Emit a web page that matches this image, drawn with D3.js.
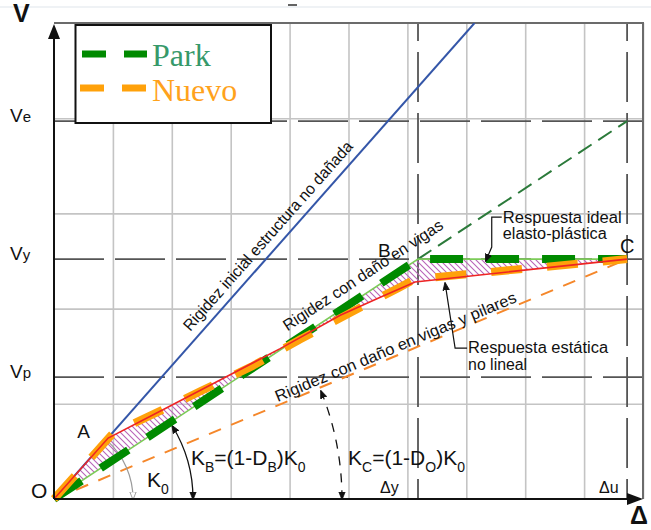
<!DOCTYPE html>
<html>
<head>
<meta charset="utf-8">
<script src="https://cdn.jsdelivr.net/npm/d3@7"></script>
<style>
  body { margin: 0; background: #fff; }
  svg text { font-family: "Liberation Sans", Arial, sans-serif; fill: #111; }
</style>
</head>
<body>
<svg id="chart" width="651" height="530"></svg>
<script>
// ---- Capacity diagram V–Δ : stiffness degradation (Park vs. Nuevo) ----

// grid positions
const gridDelta = [1, 2, 3, 4, 5, 6, 7, 8, 9, 10];
const gridV = [1, 2, 3, 4];

// characteristic force levels
const levelNames = ["V", "V", "V"];
const levelSubs = ["e", "y", "p"];
const levelValues = [3.97, 2.52, 1.28];

// characteristic displacements
const dispNames = ["Δ", "Δ"];
const dispSubs = ["y", "u"];
const dispValues = [6.18, 9.73];

// stiffness lines (Δ, V end points)
const initialDelta = [0, 7.14];        // K0, undamaged structure
const initialV = [0, 5.0];
const beamDelta = [0, 6.18];           // KB, damage in beams
const beamV = [0, 2.52];
const beamExtDelta = [6.18, 9.73];     // extension of KB up to Ve
const beamExtV = [2.52, 3.97];
const columnDelta = [0, 9.73];         // KC, damage in beams and columns
const columnV = [0, 2.52];

// idealised elasto-plastic response (Park)
const parkDelta = [0, 6.18, 9.73];
const parkV = [0, 2.52, 2.52];

// nonlinear static response
const staticDelta = [0, 0.92, 1.89, 2.82, 3.84, 4.86, 5.54, 6.13, 9.73];
const staticV = [0, 0.64, 0.95, 1.25, 1.58, 1.93, 2.12, 2.28, 2.52];

// proposed model (Nuevo)
const nuevoDelta = [0, 1.0, 1.65, 2.48, 3.35, 4.19, 5.04, 5.86, 6.13, 9.73];
const nuevoV = [0, 0.69, 0.88, 1.13, 1.39, 1.68, 1.96, 2.22, 2.31, 2.52];

// legend entries
const legendNames = ["Park", "Nuevo"];
const legendLineColors = ["#008a00", "#ffa10a"];
const legendTextColors = ["#36996a", "#ffa21c"];

// --------------------------------------------------------------------
const svg = d3.select("#chart");
const x = d3.scaleLinear().domain([0, 10]).range([54, 643]);
const y = d3.scaleLinear().domain([0, 5]).range([499, 23]);
const pts = (ds, vs) => ds.map((d, i) => [d, vs[i]]);
const line = d3.line().x(d => x(d[0])).y(d => y(d[1]));

const defs = svg.append("defs");
defs.append("clipPath").attr("id", "plot")
  .append("rect").attr("x", x(0)).attr("y", y(5))
  .attr("width", x(10) - x(0)).attr("height", y(0) - y(5));

const hatch = defs.append("pattern").attr("id", "hatch")
  .attr("patternUnits", "userSpaceOnUse").attr("width", 6).attr("height", 6);
hatch.append("path").attr("d", "M-1,-1L7,7M-1,5L1,7M5,-1L7,1")
  .attr("stroke", "#b864b8").attr("stroke-width", 1.1).attr("fill", "none");

function marker(id, fill, stroke) {
  defs.append("marker").attr("id", id)
    .attr("viewBox", "0 0 10 10").attr("refX", 9).attr("refY", 5)
    .attr("markerWidth", 8).attr("markerHeight", 8)
    .attr("markerUnits", "userSpaceOnUse")
    .attr("orient", "auto-start-reverse")
    .append("path").attr("d", "M0,1L10,5L0,9Z")
    .attr("fill", fill).attr("stroke", stroke).attr("stroke-width", 1);
}
marker("arr", "#111", "#111");
marker("arrOpen", "#fff", "#888");

// faint rule at the top of the sheet
svg.append("line").attr("x1", 0).attr("x2", 651).attr("y1", 7).attr("y2", 7)
  .attr("stroke", "#dfe5ec").attr("stroke-width", 1.2);
svg.append("line").attr("x1", 288).attr("x2", 297).attr("y1", 5).attr("y2", 5)
  .attr("stroke", "#222").attr("stroke-width", 1.4);

// ---- grid ----
const gx = svg.append("g").attr("transform", `translate(0,${y(0)})`)
  .call(d3.axisBottom(x).tickValues(gridDelta).tickSize(-(y(0) - y(5))).tickFormat(""));
gx.select(".domain").remove();
gx.selectAll(".tick line").attr("stroke", "#c4c4c4").attr("stroke-width", 1.6);

const gy = svg.append("g").attr("transform", `translate(${x(0)},0)`)
  .call(d3.axisLeft(y).tickValues(gridV).tickSize(-(x(10) - x(0))).tickFormat(""));
gy.select(".domain").remove();
gy.selectAll(".tick line").attr("stroke", "#c4c4c4").attr("stroke-width", 1.6);

// ---- characteristic levels (dashed) ----
svg.append("g").selectAll("line").data(levelValues).join("line")
  .attr("x1", x(0)).attr("x2", x(10))
  .attr("y1", d => y(d)).attr("y2", d => y(d))
  .attr("stroke", "#555").attr("stroke-width", 1.8)
  .attr("stroke-dasharray", "50,11");
svg.append("g").selectAll("line").data(dispValues).join("line")
  .attr("x1", d => x(d)).attr("x2", d => x(d))
  .attr("y1", y(0)).attr("y2", y(5))
  .attr("stroke", "#555").attr("stroke-width", 1.8)
  .attr("stroke-dasharray", "50,11").attr("stroke-dashoffset", 30);

// frame (top and right)
svg.append("path")
  .attr("d", `M${x(0)},${y(5)}H${x(10)}V${y(0)}`)
  .attr("fill", "none").attr("stroke", "#6b6b6b").attr("stroke-width", 2);

// ---- hatched area between nonlinear response and Park idealisation ----
const hatchPoly = pts(staticDelta, staticV).concat(pts(parkDelta, parkV).slice(1, -1).reverse());
svg.append("path").attr("d", line(hatchPoly) + "Z")
  .attr("fill", "url(#hatch)").attr("stroke", "none");

// ---- stiffness lines ----
const plot = svg.append("g").attr("clip-path", "url(#plot)");
plot.append("path").attr("d", line(pts(initialDelta, initialV)))
  .attr("fill", "none").attr("stroke", "#3456a8").attr("stroke-width", 2);
plot.append("path").attr("d", line(pts(columnDelta, columnV)))
  .attr("fill", "none").attr("stroke", "#f5872a").attr("stroke-width", 2)
  .attr("stroke-dasharray", "13,11");
plot.append("path").attr("d", line(pts(beamExtDelta, beamExtV)))
  .attr("fill", "none").attr("stroke", "#2b7a3a").attr("stroke-width", 2)
  .attr("stroke-dasharray", "16,8");
plot.append("path").attr("d", line(pts(parkDelta, parkV)))
  .attr("fill", "none").attr("stroke", "#7ccb58").attr("stroke-width", 1.6);

// ---- angle arcs ----
const O = [x(0), y(0)];
function angleOf(ds, vs) {
  return Math.atan2(y(vs[0]) - y(vs[1]), x(ds[1]) - x(ds[0]));
}
function arcPath(r, a) {
  const p = d3.path();
  p.arc(O[0], O[1], r, -a, 0, false);
  return p.toString();
}
svg.append("path").attr("d", arcPath(79, angleOf(initialDelta, initialV) - 0.02))
  .attr("fill", "none").attr("stroke", "#9a9a9a").attr("stroke-width", 1.2)
  .attr("marker-end", "url(#arrOpen)");
svg.append("path").attr("d", arcPath(139, angleOf(beamDelta, beamV) - 0.03))
  .attr("fill", "none").attr("stroke", "#111").attr("stroke-width", 1.3)
  .attr("marker-start", "url(#arr)").attr("marker-end", "url(#arr)");
svg.append("path").attr("d", arcPath(288, angleOf(columnDelta, columnV) - 0.012))
  .attr("fill", "none").attr("stroke", "#111").attr("stroke-width", 1.3)
  .attr("stroke-dasharray", "9,8")
  .attr("marker-start", "url(#arr)").attr("marker-end", "url(#arr)");

// ---- Park and Nuevo curves ----
svg.append("path").attr("d", line(pts(parkDelta, parkV)))
  .attr("fill", "none").attr("stroke", legendLineColors[0]).attr("stroke-width", 8)
  .attr("stroke-dasharray", "33,23");
svg.append("path").attr("d", line(pts(nuevoDelta, nuevoV)))
  .attr("fill", "none").attr("stroke", legendLineColors[1]).attr("stroke-width", 8)
  .attr("stroke-dasharray", "31,25");
// nonlinear static response
svg.append("path").attr("d", line(pts(staticDelta, staticV)))
  .attr("fill", "none").attr("stroke", "#ee2424").attr("stroke-width", 1.6);

// ---- axes with arrows ----
svg.append("line").attr("x1", x(0)).attr("x2", x(0)).attr("y1", y(0)).attr("y2", y(5) + 12)
  .attr("stroke", "#111").attr("stroke-width", 2);
svg.append("path")
  .attr("d", `M${x(0)},${y(5) + 1}L${x(0) - 6},${y(5) + 16}L${x(0) + 6},${y(5) + 16}Z`)
  .attr("fill", "#111");
svg.append("line").attr("x1", x(0)).attr("x2", x(10) - 12).attr("y1", y(0)).attr("y2", y(0))
  .attr("stroke", "#111").attr("stroke-width", 2);
svg.append("path")
  .attr("d", `M${x(10)},${y(0)}L${x(10) - 16},${y(0) - 6}L${x(10) - 16},${y(0) + 6}Z`)
  .attr("fill", "#111");

// ---- labels along the stiffness lines ----
function labelAlong(ds, vs, footDelta, offset, text, len) {
  const a = Math.atan2(y(vs[1]) - y(vs[0]), x(ds[1]) - x(ds[0]));
  const fx = x(footDelta);
  const fy = y(vs[0] + (footDelta - ds[0]) * (vs[1] - vs[0]) / (ds[1] - ds[0]));
  const px = fx + offset * Math.sin(a);
  const py = fy - offset * Math.cos(a);
  svg.append("text")
    .attr("transform", `translate(${px},${py}) rotate(${a * 180 / Math.PI})`)
    .attr("font-size", 16).attr("textLength", len).attr("lengthAdjust", "spacingAndGlyphs")
    .text(text);
}
labelAlong(initialDelta, initialV, 2.42, 8.5, "Rigidez inicial estructura no dañada", 247);
labelAlong(beamDelta, beamV, 4.07, 11.5, "Rigidez con daño en vigas", 188);
labelAlong(columnDelta, columnV, 3.82, 3, "Rigidez con daño en vigas y pilares", 260);

// ---- annotations with leaders ----
const tipIdeal = [x(7.33), y(parkV[2]) + 2];
svg.append("path")
  .attr("d", `M${tipIdeal[0] + 16},${tipIdeal[1] - 44}H${tipIdeal[0] + 6}V${tipIdeal[1] - 14}L${tipIdeal[0]},${tipIdeal[1]}`)
  .attr("fill", "none").attr("stroke", "#111").attr("stroke-width", 1.2)
  .attr("marker-end", "url(#arr)");
svg.append("text").attr("x", tipIdeal[0] + 17).attr("y", tipIdeal[1] - 38)
  .attr("font-size", 16).attr("textLength", 119).attr("lengthAdjust", "spacingAndGlyphs")
  .text("Respuesta ideal");
svg.append("text").attr("x", tipIdeal[0] + 17).attr("y", tipIdeal[1] - 22)
  .attr("font-size", 16).attr("textLength", 104).attr("lengthAdjust", "spacingAndGlyphs")
  .text("elasto-plástica");

const tipStatic = [x(6.64), y(2.30) + 3];
svg.append("path")
  .attr("d", `M${tipStatic[0] + 22},${tipStatic[1] + 65}H${tipStatic[0] + 10}L${tipStatic[0]},${tipStatic[1]}`)
  .attr("fill", "none").attr("stroke", "#111").attr("stroke-width", 1.2)
  .attr("marker-end", "url(#arr)");
svg.append("text").attr("x", tipStatic[0] + 23).attr("y", tipStatic[1] + 70)
  .attr("font-size", 16).attr("textLength", 140).attr("lengthAdjust", "spacingAndGlyphs")
  .text("Respuesta estática");
svg.append("text").attr("x", tipStatic[0] + 23).attr("y", tipStatic[1] + 87)
  .attr("font-size", 16).attr("textLength", 59).attr("lengthAdjust", "spacingAndGlyphs")
  .text("no lineal");

// ---- axis and point labels ----
svg.append("text").attr("x", 13).attr("y", 22)
  .attr("font-size", 25).attr("font-weight", "bold").text("V");
svg.append("text").attr("x", 630).attr("y", 524)
  .attr("font-size", 25).attr("font-weight", "bold").text("Δ");

const lv = svg.append("g").selectAll("text").data(levelValues).join("text")
  .attr("x", 10).attr("y", d => y(d) + 1).attr("font-size", 19);
lv.append("tspan").text((d, i) => levelNames[i]);
lv.append("tspan").attr("font-size", 15).text((d, i) => levelSubs[i]);

const ld = svg.append("g").selectAll("text").data(dispValues).join("text")
  .attr("x", d => x(d) - 38 + (d > 9 ? 10 : 0)).attr("y", y(0) - 6).attr("font-size", 16);
ld.append("tspan").text((d, i) => dispNames[i]);
ld.append("tspan").text((d, i) => dispSubs[i]);

svg.append("text").attr("x", 31).attr("y", y(0) - 1).attr("font-size", 21).text("O");
svg.append("text").attr("x", x(0.92) - 31).attr("y", y(0.64)).attr("font-size", 19).text("A");
svg.append("text").attr("x", x(parkDelta[1]) - 40).attr("y", y(parkV[1]) - 2).attr("font-size", 19).text("B");
svg.append("text").attr("x", x(parkDelta[2]) - 7).attr("y", y(parkV[2]) - 6).attr("font-size", 20).text("C");

// stiffness formulas: alternating normal text and subscripts
function kLabel(px, py, parts) {
  const t = svg.append("text").attr("x", px).attr("y", py).attr("font-size", 21);
  let shifted = false;
  parts.forEach(([s, sub]) => {
    const ts = t.append("tspan").text(s);
    if (sub) {
      ts.attr("font-size", 14).attr("dy", 7);
      shifted = true;
    } else if (shifted) {
      ts.attr("dy", -7);
      shifted = false;
    }
  });
}
kLabel(147, 487, [["K"], ["0", true]]);
kLabel(191, 465, [["K"], ["B", true], ["=(1-D"], ["B", true], [")K"], ["0", true]]);
kLabel(348, 465, [["K"], ["C", true], ["=(1-D"], ["O", true], [")K"], ["0", true]]);

// ---- legend ----
const lg = svg.append("g");
lg.append("rect").attr("x", 75.5).attr("y", 25).attr("width", 195.5).attr("height", 98)
  .attr("fill", "#fff").attr("stroke", "#111").attr("stroke-width", 2);
legendNames.forEach((name, i) => {
  const yy = 54 + i * 34;
  lg.append("line").attr("x1", 82 - i * 2).attr("x2", 147 - i).attr("y1", yy).attr("y2", yy)
    .attr("stroke", legendLineColors[i]).attr("stroke-width", 7)
    .attr("stroke-dasharray", "24,18");
  lg.append("text").attr("x", 152).attr("y", yy + 12 + i)
    .style("font-family", "'Liberation Serif', 'Times New Roman', serif")
    .attr("font-size", 32).style("fill", legendTextColors[i]).text(name);
});
</script>
</body>
</html>
